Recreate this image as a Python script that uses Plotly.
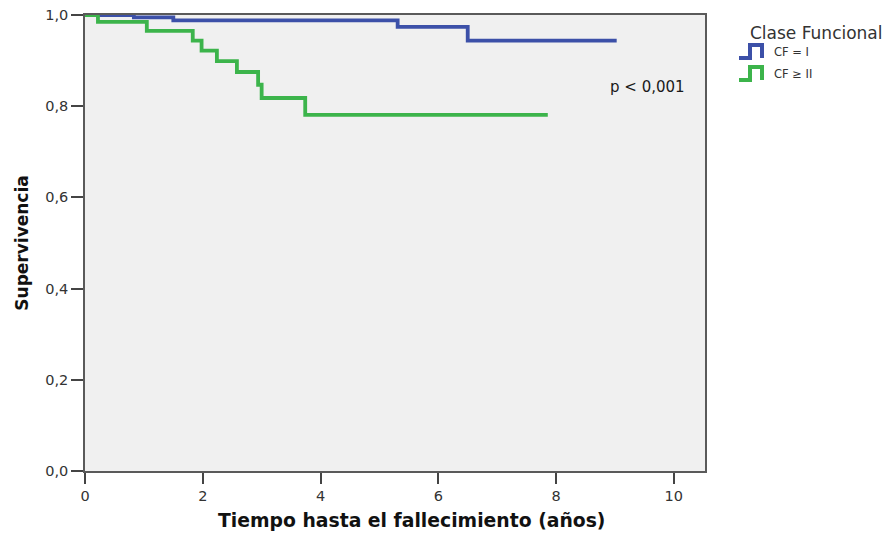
import plotly.graph_objects as go

# Kaplan-Meier step estimates by functional class
t_cf1 = [0, 0.83, 1.5, 5.31, 6.5, 9.03]
s_cf1 = [1.0, 0.995, 0.988, 0.974, 0.944, 0.944]

t_cf2 = [0, 0.22, 1.05, 1.83, 1.98, 2.24, 2.58, 2.94, 3.0, 3.74, 7.86]
s_cf2 = [1.0, 0.985, 0.965, 0.944, 0.922, 0.899, 0.875, 0.847, 0.818, 0.781, 0.781]

series_names = ["CF = I", "CF ≥ II"]
series_colors = ["#3c50a8", "#3cb44b"]

x_ticks = [0, 2, 4, 6, 8, 10]
y_ticks = [0.0, 0.2, 0.4, 0.6, 0.8, 1.0]

W, H = 892, 535
ML, MR, MT, MB = 85, 187, 15, 64
PW, PH = W - ML - MR, H - MT - MB


def px(x):
    # page pixel -> paper x
    return (x - ML) / PW


def py(y):
    # page pixel -> paper y
    return 1 - (y - MT) / PH


fig = go.Figure()
for t, s, name, col in zip([t_cf1, t_cf2], [s_cf1, s_cf2], series_names, series_colors):
    fig.add_trace(go.Scatter(
        x=t, y=s, mode="lines", name=name,
        line=dict(color=col, width=3.8, shape="hv"),
        showlegend=False, hoverinfo="x+y",
    ))

base_font = "DejaVu Sans, Verdana, sans-serif"
tick_font = dict(family=base_font, size=14.5, color="#333333")

fig.update_layout(
    width=W, height=H,
    margin=dict(l=ML, r=MR, t=MT, b=MB, autoexpand=False),
    paper_bgcolor="white",
    plot_bgcolor="#f0f0f0",
    separators=",.",
    xaxis=dict(
        range=[0, 10.53], tickvals=x_ticks, tickformat="d",
        showgrid=False, zeroline=False, automargin=False,
        showline=True, linecolor="#5a5a5a", linewidth=1.5, mirror=True,
        ticks="outside", ticklen=11, tickwidth=2, tickcolor="#444444",
        tickfont=tick_font,
    ),
    yaxis=dict(
        range=[0, 1.0], tickvals=y_ticks, tickformat=".1f",
        showgrid=False, zeroline=False, automargin=False,
        showline=True, linecolor="#5a5a5a", linewidth=1.5, mirror=True,
        ticks="outside", ticklen=12, tickwidth=2, tickcolor="#444444",
        tickfont=tick_font,
        title=dict(text="<b>Supervivencia</b>", font=dict(family=base_font, size=17, color="#111111"),
                   standoff=12),
    ),
)

# x-axis title, placed slightly right of the plot centre
fig.add_annotation(
    x=px(411), y=py(520), xref="paper", yref="paper",
    text="<b>Tiempo hasta el fallecimiento (años)</b>", showarrow=False,
    xanchor="center", yanchor="middle",
    font=dict(family=base_font, size=18.8, color="#111111"),
)

# p-value annotation
fig.add_annotation(
    x=9.56, y=0.842, xref="x", yref="y", text="p < 0,001", showarrow=False,
    font=dict(family=base_font, size=15, color="#1a1a1a"),
)

# Legend drawn with step-shaped glyphs
fig.add_annotation(
    x=px(816), y=py(33), xref="paper", yref="paper", text="Clase Funcional",
    showarrow=False, xanchor="center", yanchor="middle",
    font=dict(family=base_font, size=17, color="#333333"),
)
legend_rows = [52, 74]
for row_y, name, col in zip(legend_rows, series_names, series_colors):
    x0, x1, x2 = 739, 750, 762
    yb, yt = row_y + 6, row_y - 7
    path = (f"M {px(x0)},{py(yb)} L {px(x1)},{py(yb)} L {px(x1)},{py(yt)} "
            f"L {px(x2)},{py(yt)} L {px(x2)},{py(yb)}")
    fig.add_shape(type="path", path=path, xref="paper", yref="paper",
                  line=dict(color=col, width=4))
    fig.add_annotation(
        x=px(772), y=py(row_y), xref="paper", yref="paper", text=name,
        showarrow=False, xanchor="left", yanchor="middle",
        font=dict(family=base_font, size=11.5, color="#333333"),
    )

fig.write_html("out.html")
